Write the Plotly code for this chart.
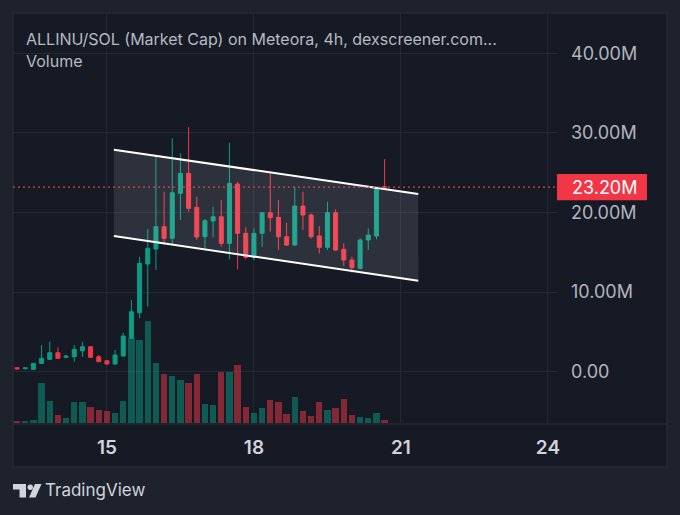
import plotly.graph_objects as go
import pandas as pd

# ---------------- data ----------------
times = pd.date_range("2024-11-13 04:00", periods=46, freq="4h")

opens = [0.50, 0.38, 0.30, 1.05, 1.56, 2.39, 1.81, 1.88, 2.64, 3.14,
         1.88, 1.38, 0.97, 1.97, 4.20, 7.41, 13.53, 15.41, 18.22, 16.76,
         22.41, 24.92, 20.65, 16.96, 18.93, 19.47, 16.13, 23.58, 17.39, 14.37,
         17.39, 19.97, 19.40, 16.96, 15.92, 20.82, 19.69, 17.05, 15.63, 19.97,
         15.38, 14.03, 12.99, 16.55, 17.05, 23.26]
highs = [0.55, 0.55, 1.10, 3.35, 3.77, 3.07, 2.15, 3.35, 3.77, 3.20,
         2.10, 1.45, 2.73, 4.90, 9.00, 14.45, 17.93, 27.00, 22.61, 29.32,
         27.44, 30.74, 21.98, 19.20, 20.73, 21.57, 28.77, 23.87, 18.14, 18.00,
         20.05, 25.13, 21.57, 18.72, 23.24, 22.61, 19.90, 18.30, 21.36, 20.40,
         16.13, 14.45, 16.76, 18.00, 23.25, 26.70]
lows = [0.30, 0.30, 0.25, 1.00, 1.50, 1.60, 1.70, 1.26, 1.88, 1.75,
        1.20, 0.90, 0.90, 1.90, 4.10, 6.71, 8.17, 12.78, 15.92, 15.92,
        19.06, 20.10, 16.55, 15.38, 16.88, 15.70, 14.12, 12.86, 14.12, 14.00,
        15.70, 17.59, 15.29, 15.80, 15.80, 17.80, 16.70, 14.87, 15.29, 15.20,
        13.28, 12.44, 12.86, 15.29, 16.63, 22.90]
closes = [0.35, 0.48, 1.05, 1.68, 2.39, 1.68, 1.97, 2.81, 3.14, 1.81,
          1.26, 0.97, 2.10, 4.48, 7.54, 13.62, 15.50, 18.22, 16.76, 22.49,
          24.92, 20.53, 16.92, 18.97, 19.47, 16.13, 23.67, 17.39, 14.37, 17.39,
          19.97, 19.35, 16.96, 15.92, 20.82, 19.69, 16.96, 15.63, 19.97, 15.29,
          14.03, 13.07, 16.55, 17.17, 23.12, 23.20]
volumes = [17, 17, 27, 400, 217, 83, 50, 207, 207, 160,
           133, 123, 100, 223, 850, 833, 1017, 600, 490, 467,
           433, 400, 490, 193, 183, 507, 507, 583, 160, 100,
           147, 233, 207, 93, 260, 117, 73, 210, 127, 147,
           240, 77, 60, 50, 103, 33]

channel_x = ["2024-11-15 03:25", "2024-11-21 08:30"]
channel_upper = [27.90, 22.32]
channel_lower = [17.05, 11.43]
last_price = 23.20
last_price_text = "23.20M"

price_ticks = [0, 10, 20, 30, 40]
price_tick_text = ["0.00", "10.00M", "20.00M", "30.00M", "40.00M"]
day_ticks = ["2024-11-15", "2024-11-18", "2024-11-21", "2024-11-24"]
day_tick_text = ["15", "18", "21", "24"]

title_text = "ALLINU/SOL (Market Cap) on Meteora, 4h, dexscreener.com..."
volume_text = "Volume"
brand_text = "TradingView"

# ---------------- style ----------------
W, H = 680, 515
ML, MR, MT, MB = 13, 122, 14, 92
PW, PH = W - ML - MR, H - MT - MB
UP, DN = "#0c9c84", "#f23645"
UP_V, DN_V = "rgba(8,153,129,0.5)", "rgba(242,54,69,0.5)"
BG_OUT, BG_IN, LINE_C = "#1e222d", "#161a25", "#2a2e39"
FONT = "Inter"


def px(x):
    return (x - ML) / PW


def py(y):
    return (H - MB - y) / PH


vol_colors = [UP_V if c >= o else DN_V for o, c in zip(opens, closes)]

fig = go.Figure()

# channel fill
fig.add_trace(go.Scatter(
    x=[channel_x[0], channel_x[1], channel_x[1], channel_x[0], channel_x[0]],
    y=[channel_upper[0], channel_upper[1], channel_lower[1], channel_lower[0], channel_upper[0]],
    fill="toself", fillcolor="rgba(255,255,255,0.10)", mode="lines",
    line=dict(width=0), hoverinfo="skip", showlegend=False))

fig.add_trace(go.Candlestick(
    x=times, open=opens, high=highs, low=lows, close=closes,
    increasing=dict(line=dict(color=UP, width=1), fillcolor=UP),
    decreasing=dict(line=dict(color=DN, width=1), fillcolor=DN),
    showlegend=False))

for ys in (channel_upper, channel_lower):
    fig.add_trace(go.Scatter(x=channel_x, y=ys, mode="lines",
                             line=dict(color="#ffffff", width=2),
                             hoverinfo="skip", showlegend=False))

fig.add_trace(go.Bar(x=times, y=volumes, marker=dict(color=vol_colors, line=dict(width=0)),
                     width=4 * 3600 * 1000 * 0.78, yaxis="y2", showlegend=False))

shapes = [
    # panel
    dict(type="rect", xref="paper", yref="paper", x0=px(13), x1=px(667), y0=py(467), y1=py(13),
         fillcolor=BG_IN, line=dict(color=LINE_C, width=1), layer="below"),
    dict(type="line", xref="paper", yref="paper", x0=px(13), x1=px(667), y0=py(424), y1=py(424),
         line=dict(color=LINE_C, width=1), layer="below"),
    # last price line
    dict(type="line", xref="paper", yref="y", x0=0, x1=px(557), y0=last_price, y1=last_price,
         line=dict(color="#e0404f", width=1.2, dash="2px,3px")),
    dict(type="rect", xref="paper", yref="y", x0=px(557), x1=px(647),
         y0=last_price - 1.65, y1=last_price + 1.65,
         fillcolor=DN, line=dict(width=0)),
    # TradingView logo
    dict(type="rect", xref="paper", yref="paper", x0=px(13), x1=px(26), y0=py(489.5), y1=py(484),
         fillcolor="#d1d4dc", line=dict(width=0)),
    dict(type="rect", xref="paper", yref="paper", x0=px(19.5), x1=px(26), y0=py(497.5), y1=py(484),
         fillcolor="#d1d4dc", line=dict(width=0)),
    dict(type="circle", xref="paper", yref="paper", x0=px(27.5), x1=px(33), y0=py(490), y1=py(484.5),
         fillcolor="#d1d4dc", line=dict(width=0)),
    dict(type="path", xref="paper", yref="paper",
         path=f"M {px(35)} {py(484)} L {px(41.5)} {py(484)} L {px(35.5)} {py(497.5)} L {px(29)} {py(497.5)} Z",
         fillcolor="#d1d4dc", line=dict(width=0)),
]

annotations = [
    dict(xref="paper", yref="paper", x=px(24), y=py(39), xanchor="left", yanchor="middle",
         text=title_text, showarrow=False, font=dict(family=FONT, size=16, color="#b7bac3")),
    dict(xref="paper", yref="paper", x=px(24), y=py(61), xanchor="left", yanchor="middle",
         text=volume_text, showarrow=False, font=dict(family=FONT, size=16, color="#b7bac3")),
    dict(xref="paper", yref="y", x=px(570), y=last_price, xanchor="left", yanchor="middle",
         text=last_price_text, showarrow=False, font=dict(family=FONT, size=18, color="#ffffff")),
    dict(xref="paper", yref="paper", x=px(43), y=py(490), xanchor="left", yanchor="middle",
         text=brand_text, showarrow=False, font=dict(family=FONT, size=17, color="#d1d4dc")),
]

fig.update_layout(
    width=W, height=H,
    margin=dict(l=ML, r=MR, t=MT, b=MB),
    paper_bgcolor=BG_OUT, plot_bgcolor=BG_IN,
    showlegend=False, bargap=0,
    shapes=shapes, annotations=annotations,
    xaxis=dict(type="date", range=["2024-11-13 02:00", "2024-11-24 04:55"],
               tickvals=day_ticks, ticktext=day_tick_text,
               showgrid=True, gridcolor="#252935", gridwidth=1,
               showline=False, zeroline=False, ticks="",
               tickfont=dict(family=FONT, size=19, color="#d1d4dc", weight=600),
               ticklabelstandoff=11,
               rangeslider=dict(visible=False), fixedrange=True),
    yaxis=dict(side="right", range=[-6.44, 44.94],
               tickvals=price_ticks, ticktext=price_tick_text,
               showgrid=True, gridcolor="#252935", gridwidth=1,
               showline=False, zeroline=False, ticks="",
               tickfont=dict(family=FONT, size=18, color="#b2b5be"),
               ticklabelstandoff=12, fixedrange=True),
    yaxis2=dict(overlaying="y", range=[0, 4090], visible=False, fixedrange=True),
)

fig.write_html(
    "out.html",
    config={"displayModeBar": False},
    post_script="document.body.style.margin='0';document.body.style.background='" + BG_OUT + "';",
)
